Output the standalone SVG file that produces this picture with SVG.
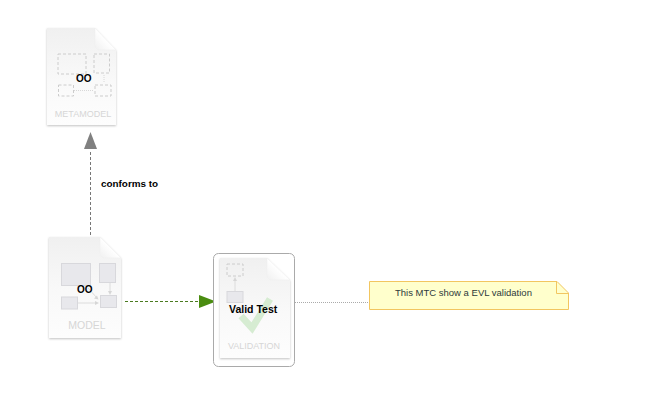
<svg xmlns="http://www.w3.org/2000/svg" width="649" height="406" viewBox="0 0 649 406">
<style>
.lbl{font-family:"Liberation Sans",Arial,sans-serif;font-size:9.900px;font-weight:bold;fill:#000}
.oo{font-family:"Liberation Sans",Arial,sans-serif;font-size:10px;font-weight:bold;fill:#000}
.cap{font-family:"Liberation Sans",Arial,sans-serif;font-size:9px;fill:#d6d6d6;text-anchor:middle}
.page{fill:url(#pg);filter:url(#sh)}
.fold{fill:url(#fd);stroke:#f0f0f0;stroke-width:.6}
.dash{fill:none;stroke:#cccccc;stroke-width:1;stroke-dasharray:3 2}
.box{fill:#e8e8ec;stroke:#d8d8dc;stroke-width:1}
.thin{stroke:#dcdcdc;stroke-width:1;fill:none}
.tip{fill:#d6d6d6}
</style>
<defs>
<linearGradient id="pg" x1="0" y1="0" x2="0" y2="1"><stop offset="0" stop-color="#f0f0f0"/><stop offset=".55" stop-color="#f9f9f9"/><stop offset="1" stop-color="#fdfdfd"/></linearGradient>
<linearGradient id="fd" x1="0" y1="1" x2="1" y2="0"><stop offset="0" stop-color="#f0f0f0"/><stop offset=".5" stop-color="#ffffff"/></linearGradient>
<filter id="sh" x="-15%" y="-15%" width="130%" height="130%"><feDropShadow dx="0" dy="1" stdDeviation="1.2" flood-color="#000" flood-opacity=".24"/></filter>
</defs>
<rect width="649" height="406" fill="#fff"/>
<g id="connectors">
<path d="M90.500 235V150" fill="none" stroke="#777" stroke-width="1" stroke-dasharray="3 2"/>
<path d="M90.500 132L84 149H97Z" fill="#808080"/>
<path d="M125 301.500H199" fill="none" stroke="#4a7a20" stroke-width="1" stroke-dasharray="3 2"/>
<path d="M199 295V308L216 301.500Z" fill="#4a8c10"/>
<path d="M295 302.500H369" fill="none" stroke="#aaa" stroke-width="1" stroke-dasharray="1 1"/>
<text class="lbl" x="101" y="187">conforms to</text>
</g>
<g id="metamodel">
<path class="page" d="M47 28H95L116 50V125H47Z"/>
<path class="fold" d="M95 28L116 50H100Q95 50 95 45Z"/>
<rect class="dash" x="58" y="54" width="28" height="20"/>
<rect class="dash" x="94" y="54" width="15.500" height="19"/>
<rect class="dash" x="58.500" y="85" width="15" height="11"/>
<rect class="dash" x="95" y="85" width="16" height="11"/>
<path d="M74 90.500H93M104 75V83" fill="none" stroke="#d8d8d8" stroke-dasharray="1 1"/>
<text class="oo" x="76" y="82">OO</text>
<text class="cap" x="83" y="117">METAMODEL</text>
</g>
<g id="model">
<path class="page" d="M49 237H100L121 258V338H49Z"/>
<path class="fold" d="M100 237L121 258H105Q100 258 100 253Z"/>
<rect class="box" x="61.500" y="263.500" width="29" height="22"/>
<rect class="box" x="99.500" y="263.500" width="16" height="19"/>
<rect class="box" x="61.500" y="297" width="16" height="12"/>
<rect class="box" x="100.500" y="295.500" width="16" height="12"/>
<path class="thin" d="M78 303H96M110 283V293M88 288L97 298"/>
<path class="tip" d="M99 303L95 301V305ZM110 295L108 291H112ZM98.500 299.500L94 298.500L97 295.500Z"/>
<text class="oo" x="77" y="293">OO</text>
<text class="cap" x="87" y="329" style="font-size:10.500px">MODEL</text>
</g>
<g id="validation">
<rect x="213.500" y="253.500" width="81" height="113" rx="5" fill="#fff" stroke="#aaa" stroke-width="1"/>
<path class="page" d="M220 258H267L290 280V358H220Z"/>
<path class="fold" d="M267 258L290 280H272Q267 280 267 275Z"/>
<rect class="dash" x="227" y="264" width="16" height="12"/>
<rect class="box" x="227" y="291.500" width="16" height="11"/>
<path class="thin" d="M235 291V280"/>
<path class="tip" d="M235 277L233 281H237Z"/>
<path d="M241 316L252 328L270 299" fill="none" stroke="#d6ecd2" stroke-width="7"/>
<text class="lbl" x="229" y="313" style="font-size:10.500px">Valid Test</text>
<text class="cap" x="254" y="349">VALIDATION</text>
</g>
<g id="note">
<path d="M369.500 281.500H557L568.500 293V309.500H369.500Z" fill="#ffffcc" stroke="#f2c660" stroke-width="1"/>
<path d="M556.500 281.500V293.500H568.500" fill="none" stroke="#f2c660" stroke-width="1"/>
<text x="395" y="296" style="font-family:'Liberation Sans',Arial,sans-serif;font-size:9.500px;fill:#2e3a3a">This MTC show a EVL validation</text>
</g>
</svg>
